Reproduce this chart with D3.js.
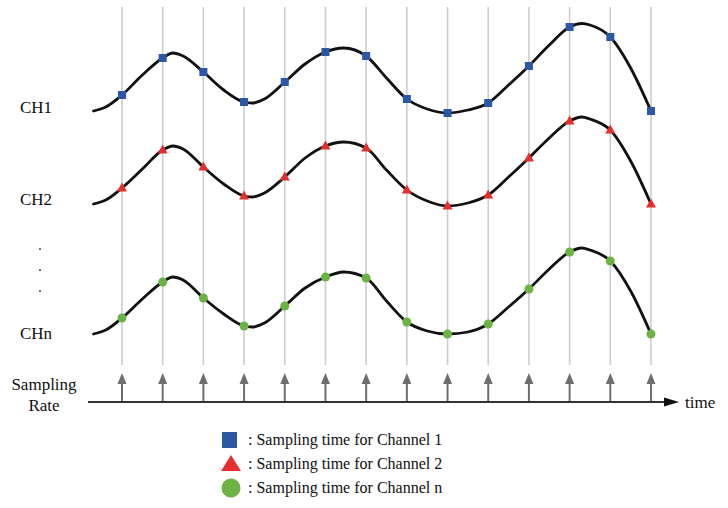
<!DOCTYPE html>
<html>
<head>
<meta charset="utf-8">
<script src="https://cdn.jsdelivr.net/npm/d3@7"></script>
<style>
  html, body { margin: 0; padding: 0; background: #fff; }
  svg { display: block; }
</style>
</head>
<body>
<svg id="chart" width="728" height="508"></svg>
<script>
// ---- data ----
const sampleTimes = [1, 2, 3, 4, 5, 6, 7, 8, 9, 10, 11, 12, 13, 14];
const channels = ["CH1", "CH2", "CHn"];

// sampled amplitude (relative to each channel's own baseline)
const ch1Samples = [20, 57, 43, 13, 33, 63, 59, 16, 2, 12, 49, 88, 78, 4];
const ch2Samples = [20, 58, 41, 12, 31, 62, 60, 18, 2, 13, 50, 87, 78, 4];
const chnSamples = [21, 57, 41, 13, 33, 62, 61, 17, 5, 15, 50, 87, 78, 5];

// extra points of the continuous waveform between samples [time, amplitude]
const ch1Between = [[0.3, 4], [0.6, 8], [1.5, 40], [2.25, 62], [2.5, 59], [3.5, 25], [4.2, 12], [4.5, 16],
  [5.5, 51], [6.45, 67], [7.5, 37], [8.5, 6], [9.5, 5], [10.5, 30], [11.5, 70], [12.3, 91.5], [12.5, 90], [13.5, 47]];
const ch2Between = [[0.3, 4], [0.6, 8], [1.5, 39], [2.25, 62], [2.5, 59], [3.5, 24], [4.2, 11], [4.5, 15],
  [5.5, 50], [6.45, 66], [7.5, 38], [8.5, 7], [9.5, 5], [10.5, 31], [11.5, 70], [12.3, 91], [12.5, 89], [13.5, 47]];
const chnBetween = [[0.3, 5], [0.6, 9], [1.5, 40], [2.25, 62], [2.5, 59], [3.5, 25], [4.2, 12], [4.5, 16],
  [5.5, 51], [6.45, 67], [7.5, 38], [8.5, 8], [9.5, 7], [10.5, 32], [11.5, 70], [12.3, 91], [12.5, 89], [13.5, 48]];

const markerColors = ["#2b57a5", "#e3302e", "#6cb244"];
const markerShapes = ["square", "triangle", "circle"];
const legendLabels = [": Sampling time for Channel 1", ": Sampling time for Channel 2", ": Sampling time for Channel n"];

const FONT = "Liberation Serif";

// ---- scales ----
const svg = d3.select("#chart");
const x = d3.scaleLinear().domain([0, 14]).range([81.3, 651]);
const base = d3.scaleOrdinal().domain(channels).range([115, 208, 339]);
const amp = d3.scaleLinear().domain([0, 100]).range([0, -100]);

const sampleSets = [ch1Samples, ch2Samples, chnSamples];
const betweenSets = [ch1Between, ch2Between, chnBetween];

function addText(sel) {
  return sel.append("text").style("font-family", FONT).attr("fill", "#111");
}

// vertical sampling-time grid lines
svg.append("g").selectAll("line").data(sampleTimes).join("line")
  .attr("x1", d => x(d)).attr("x2", d => x(d))
  .attr("y1", 7).attr("y2", 365)
  .attr("stroke", "#cdcdcd").attr("stroke-width", 1.6);

// waveforms
const line = d3.line().curve(d3.curveMonotoneX);
channels.forEach((ch, i) => {
  const pts = sampleTimes.map((t, j) => [t, sampleSets[i][j]]).concat(betweenSets[i])
    .sort((a, b) => a[0] - b[0]);
  svg.append("path")
    .attr("d", line(pts.map(p => [x(p[0]), base(ch) + amp(p[1])])))
    .attr("fill", "none").attr("stroke", "#111").attr("stroke-width", 2.8)
    .attr("stroke-linecap", "round");
});

function drawMarker(g, shape, color, cx, cy, s) {
  if (shape === "square") {
    g.append("rect").attr("x", cx - s / 2).attr("y", cy - s / 2).attr("width", s).attr("height", s).attr("fill", color);
  } else if (shape === "triangle") {
    const h = s * 0.9;
    g.append("path").attr("d", `M${cx},${cy - h * 0.6}L${cx + s / 2},${cy + h * 0.4}L${cx - s / 2},${cy + h * 0.4}Z`).attr("fill", color);
  } else {
    g.append("circle").attr("cx", cx).attr("cy", cy).attr("r", s / 2).attr("fill", color);
  }
}

// sample markers
channels.forEach((ch, i) => {
  const g = svg.append("g");
  sampleTimes.forEach((t, j) => {
    drawMarker(g, markerShapes[i], markerColors[i], x(t), base(ch) + amp(sampleSets[i][j]), i === 0 ? 8 : (i === 1 ? 10 : 9));
  });
});

// channel labels
const labelY = d3.scaleOrdinal().domain(channels).range([113, 205, 339]);
channels.forEach(ch => {
  addText(svg).attr("x", 20).attr("y", labelY(ch)).attr("font-size", 17).text(ch);
});

// vertical ellipsis
svg.append("g").selectAll("circle").data([249, 270, 291]).join("circle")
  .attr("cx", 40).attr("cy", d => d).attr("r", 1).attr("fill", "#444");

// sampling arrows
const arrows = svg.append("g");
sampleTimes.forEach(t => {
  const cx = x(t);
  arrows.append("line").attr("x1", cx).attr("x2", cx).attr("y1", 402).attr("y2", 381)
    .attr("stroke", "#6e6e6e").attr("stroke-width", 2);
  arrows.append("path").attr("d", `M${cx},373L${cx + 4.5},384L${cx - 4.5},384Z`).attr("fill", "#6e6e6e");
});

// time axis
svg.append("line").attr("x1", 88).attr("x2", 668).attr("y1", 402).attr("y2", 402)
  .attr("stroke", "#333").attr("stroke-width", 2);
svg.append("path").attr("d", "M664,397.5L679,402L664,406.5Z").attr("fill", "#111");
addText(svg).attr("x", 685).attr("y", 408).attr("font-size", 17).text("time");

addText(svg).attr("x", 44).attr("y", 390).attr("font-size", 17).attr("text-anchor", "middle").text("Sampling");
addText(svg).attr("x", 44).attr("y", 411).attr("font-size", 17).attr("text-anchor", "middle").text("Rate");

// legend
const legendY = d3.scalePoint().domain(legendLabels).range([440, 488]);
const lg = svg.append("g");
legendLabels.forEach((lab, i) => {
  const cy = legendY(lab);
  if (i === 0) {
    lg.append("rect").attr("x", 222).attr("y", cy - 8).attr("width", 15).attr("height", 16).attr("fill", markerColors[0]);
  } else if (i === 1) {
    lg.append("path").attr("d", `M231,${cy - 9}L241,${cy + 7}L221,${cy + 7}Z`).attr("fill", markerColors[1]);
  } else {
    lg.append("circle").attr("cx", 231).attr("cy", cy).attr("r", 9.5).attr("fill", markerColors[2]);
  }
  addText(lg).attr("x", 248).attr("y", cy + 5).attr("font-size", 16).text(lab);
});
</script>
</body>
</html>
